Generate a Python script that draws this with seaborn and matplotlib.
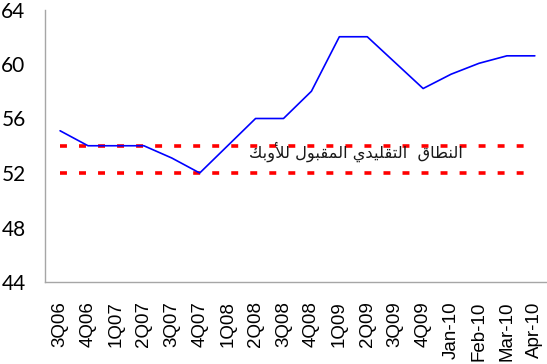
import numpy as np
import pandas as pd
import matplotlib
matplotlib.use("Agg")
import matplotlib.pyplot as plt
import seaborn as sns

# ---- data ----
periods = ["3Q06", "4Q06", "1Q07", "2Q07", "3Q07", "4Q07", "1Q08", "2Q08", "3Q08",
           "4Q08", "1Q09", "2Q09", "3Q09", "4Q09", "Jan-10", "Feb-10", "Mar-10", "Apr-10"]
opec_rate = [55.1, 54.0, 54.0, 54.0, 53.1, 52.0, 54.0, 56.0, 56.0,
             58.0, 62.0, 62.0, 60.1, 58.2, 59.25, 60.05, 60.6, 60.6]
band_upper = [54] * len(periods)
band_lower = [52] * len(periods)
y_ticks = [44, 48, 52, 56, 60, 64]
band_label = "النطاق  التقليدي المقبول للأوبك"

# ---- minimal Arabic shaping (presentation forms, visual order) ----
FORMS = {
    'ا': ('\uFE8D', '\uFE8E', None, None),
    'أ': ('\uFE83', '\uFE84', None, None),
    'د': ('\uFEA9', '\uFEAA', None, None),
    'و': ('\uFEED', '\uFEEE', None, None),
    'ل': ('\uFEDD', '\uFEDE', '\uFEDF', '\uFEE0'),
    'ن': ('\uFEE5', '\uFEE6', '\uFEE7', '\uFEE8'),
    'ط': ('\uFEC1', '\uFEC2', '\uFEC3', '\uFEC4'),
    'ق': ('\uFED5', '\uFED6', '\uFED7', '\uFED8'),
    'ت': ('\uFE95', '\uFE96', '\uFE97', '\uFE98'),
    'ي': ('\uFEF1', '\uFEF2', '\uFEF3', '\uFEF4'),
    'م': ('\uFEE1', '\uFEE2', '\uFEE3', '\uFEE4'),
    'ب': ('\uFE8F', '\uFE90', '\uFE91', '\uFE92'),
    'ك': ('\uFED9', '\uFEDA', '\uFEDB', '\uFEDC'),
}
LAMALEF = {'ا': ('\uFEFB', '\uFEFC'), 'أ': ('\uFEF7', '\uFEF8')}


def shape_arabic(text):
    ch = list(text)
    out = []
    i = 0
    while i < len(ch):
        c = ch[i]
        if c not in FORMS:
            out.append(c)
            i += 1
            continue
        prev = ch[i - 1] if i > 0 else None
        joins_prev = prev in FORMS and FORMS[prev][2] is not None
        if c == 'ل' and i + 1 < len(ch) and ch[i + 1] in LAMALEF:
            iso, fin = LAMALEF[ch[i + 1]]
            out.append(fin if joins_prev else iso)
            i += 2
            continue
        nxt = ch[i + 1] if i + 1 < len(ch) else None
        iso, fin, ini, med = FORMS[c]
        joins_next = ini is not None and nxt in FORMS
        if joins_prev and joins_next:
            out.append(med)
        elif joins_prev:
            out.append(fin)
        elif joins_next:
            out.append(ini)
        else:
            out.append(iso)
        i += 1
    return ''.join(reversed(out))


sns.set_theme(style="white")
plt.rcParams['font.family'] = ['Liberation Sans', 'DejaVu Sans']
plt.rcParams['lines.scale_dashes'] = False

df = pd.DataFrame({
    "pos": np.arange(len(periods)),
    "period": periods,
    "rate": opec_rate,
    "upper": band_upper,
    "lower": band_lower,
})

W, H = 547, 364
fig = plt.figure(figsize=(W / 100, H / 100), dpi=100)
ax = fig.add_axes([45 / W, 1 - 282 / H, (546 - 45) / W, (282 - 9.5) / H])

sns.lineplot(data=df, x="pos", y="upper", ax=ax, color="#FF0000", linewidth=2.6,
             dashes=False, sort=False, linestyle=(0, (5.0, 8.7)))
sns.lineplot(data=df, x="pos", y="lower", ax=ax, color="#FF0000", linewidth=2.6,
             dashes=False, sort=False, linestyle=(0, (5.0, 8.7)))
sns.lineplot(data=df, x="pos", y="rate", ax=ax, color="#0000FF", linewidth=1.2, sort=False)

ax.set_xlim(-0.54, 17.4)
ax.set_ylim(44, 64)
ax.set_yticks(y_ticks)
ax.set_yticklabels([str(v) for v in y_ticks], fontsize=15, family=['Lato', 'DejaVu Sans'])
ax.set_xticks(df["pos"])
ax.set_xticklabels(periods, rotation=90, fontsize=13.5, va="top",
                   family=['Liberation Sans', 'DejaVu Sans'])
ax.tick_params(axis='y', length=0, pad=14, colors="black")
ax.tick_params(axis='x', length=0, pad=14, colors="black")
ax.set_xlabel("")
ax.set_ylabel("")
ax.grid(False)

for s in ["top", "right"]:
    ax.spines[s].set_visible(False)
for s in ["left", "bottom"]:
    ax.spines[s].set_color("#A6A6A6")
    ax.spines[s].set_linewidth(1.0)

ax.text(10.6, 53.55, shape_arabic(band_label), fontsize=11.7, color="#1A1A1A",
        ha="center", va="center", family=['DejaVu Sans'])

fig.savefig("out.png", dpi=100, facecolor="white")
